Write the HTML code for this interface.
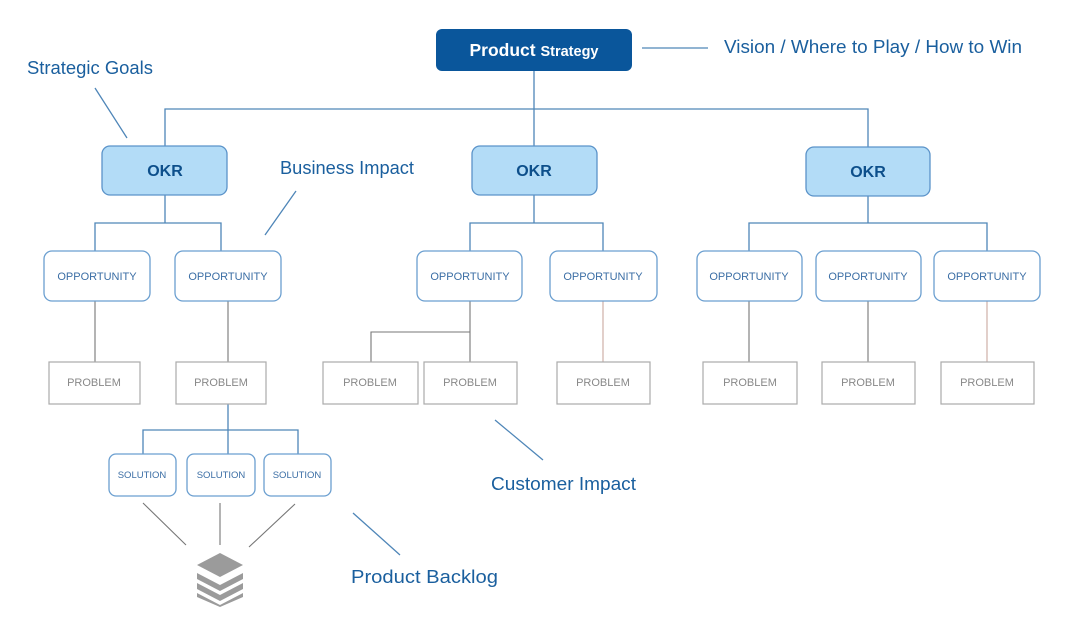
<!DOCTYPE html>
<html><head><meta charset="utf-8"><style>
html,body{margin:0;padding:0;background:#fff;width:1080px;height:642px;overflow:hidden}
svg{display:block;font-family:"Liberation Sans",sans-serif}
</style></head><body>
<svg width="1080" height="642" viewBox="0 0 1080 642" xmlns="http://www.w3.org/2000/svg">
<g stroke="#4f86b8" stroke-width="1.3" fill="none">
<path d="M534 71V146M165 146V109H868V147"/>
<path d="M165 195V223M95 251V223H221V251"/>
<path d="M534 195V223M470 251V223H603V251"/>
<path d="M868 196V223M749 251V223H987V251"/>
<path d="M228 404V454M143 454V430H298V454"/>
<path d="M642 48H708"/>
<path d="M95 88L127 138M296 191L265 235M495 420L543 460M353 513L400 555"/>
</g>
<g stroke="#777" stroke-width="1.1" fill="none">
<path d="M95 301V362M228 301V362M470 301V332M371 362V332H470V362M749 301V362M868 301V362"/>
<path d="M143 503L186 545M220 503V545M295 504L249 547"/>
</g>
<path d="M603 301V362M987 301V362" stroke="#c9a8a0" stroke-width="1.1"/>
<rect x="436" y="29" width="196" height="42" rx="6" fill="#0a569b"/>
<text x="534" y="56" text-anchor="middle" fill="#fff" font-weight="bold"><tspan font-size="17.5">Product </tspan><tspan font-size="14.5">Strategy</tspan></text>
<g fill="#1a5f9e" font-size="18">
<text x="724" y="53" textLength="298" lengthAdjust="spacingAndGlyphs">Vision / Where to Play / How to Win</text>
<text x="27" y="74" textLength="126" lengthAdjust="spacingAndGlyphs">Strategic Goals</text>
<text x="280" y="174" textLength="134" lengthAdjust="spacingAndGlyphs">Business Impact</text>
<text x="491" y="490" textLength="145" lengthAdjust="spacingAndGlyphs">Customer Impact</text>
<text x="351" y="583" textLength="147" lengthAdjust="spacingAndGlyphs">Product Backlog</text>
</g>
<g fill="#b3dcf7" stroke="#5b93c9" stroke-width="1.3">
<rect x="102" y="146" width="125" height="49" rx="8"/>
<rect x="472" y="146" width="125" height="49" rx="8"/>
<rect x="806" y="147" width="124" height="49" rx="8"/>
</g>
<g fill="#0d4f8b" font-size="16" font-weight="bold" text-anchor="middle">
<text x="165" y="176">OKR</text><text x="534" y="176">OKR</text><text x="868" y="177">OKR</text>
</g>
<g fill="#fff" stroke="#6b9fd0" stroke-width="1.3">
<rect x="44" y="251" width="106" height="50" rx="8"/>
<rect x="175" y="251" width="106" height="50" rx="8"/>
<rect x="417" y="251" width="105" height="50" rx="8"/>
<rect x="550" y="251" width="107" height="50" rx="8"/>
<rect x="697" y="251" width="105" height="50" rx="8"/>
<rect x="816" y="251" width="105" height="50" rx="8"/>
<rect x="934" y="251" width="106" height="50" rx="8"/>
<rect x="109" y="454" width="67" height="42" rx="7"/>
<rect x="187" y="454" width="68" height="42" rx="7"/>
<rect x="264" y="454" width="67" height="42" rx="7"/>
</g>
<g fill="#3b6ea5" font-size="11" text-anchor="middle">
<text x="97" y="280">OPPORTUNITY</text><text x="228" y="280">OPPORTUNITY</text>
<text x="470" y="280">OPPORTUNITY</text><text x="603" y="280">OPPORTUNITY</text>
<text x="749" y="280">OPPORTUNITY</text><text x="868" y="280">OPPORTUNITY</text>
<text x="987" y="280">OPPORTUNITY</text>
<g font-size="9.5"><text x="142" y="478">SOLUTION</text><text x="221" y="478">SOLUTION</text><text x="297" y="478">SOLUTION</text></g>
</g>
<g fill="#fff" stroke="#aaa" stroke-width="1.2">
<rect x="49" y="362" width="91" height="42"/>
<rect x="176" y="362" width="90" height="42"/>
<rect x="323" y="362" width="95" height="42"/>
<rect x="424" y="362" width="93" height="42"/>
<rect x="557" y="362" width="93" height="42"/>
<rect x="703" y="362" width="94" height="42"/>
<rect x="822" y="362" width="93" height="42"/>
<rect x="941" y="362" width="93" height="42"/>
</g>
<g fill="#888" font-size="11" text-anchor="middle">
<text x="94" y="386">PROBLEM</text><text x="221" y="386">PROBLEM</text>
<text x="370" y="386">PROBLEM</text><text x="470" y="386">PROBLEM</text>
<text x="603" y="386">PROBLEM</text><text x="750" y="386">PROBLEM</text>
<text x="868" y="386">PROBLEM</text><text x="987" y="386">PROBLEM</text>
</g>
<g fill="#9b9b9b">
<path d="M220 553L243 565L220 577L197 565Z"/>
<path d="M197 573L220 585L243 573L243 579L220 591L197 579Z"/>
<path d="M197 583L220 595L243 583L243 589L220 601L197 589Z"/>
<path d="M197 593L220 605L243 593L243 597L220 607L197 597Z"/>
</g>
</svg>
</body></html>
